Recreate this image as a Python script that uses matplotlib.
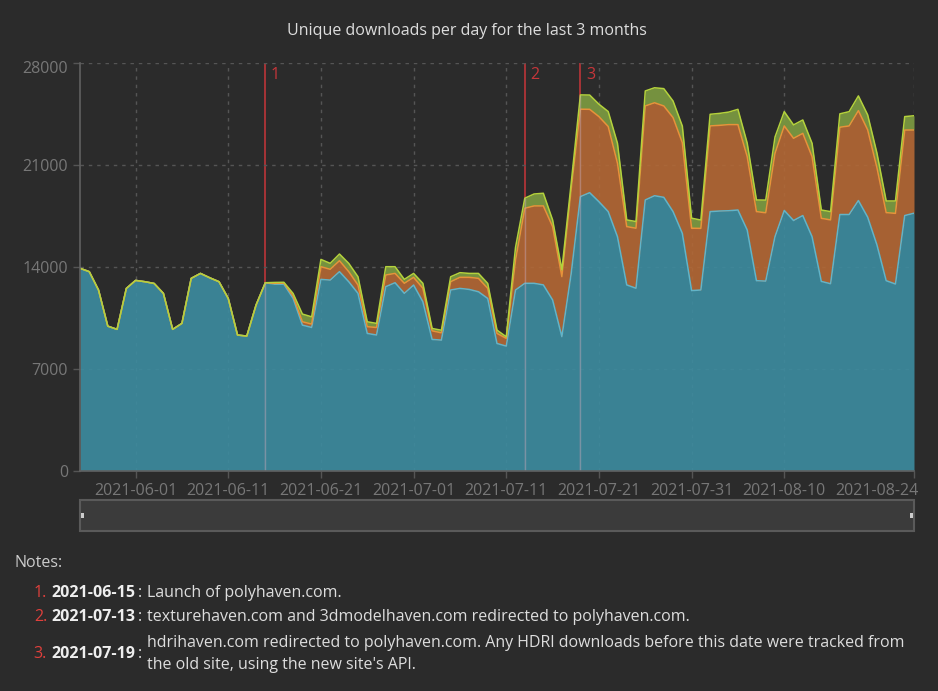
import matplotlib
matplotlib.use("Agg")
import matplotlib.pyplot as plt
import matplotlib.transforms as mtrans
from matplotlib.patches import Rectangle
import numpy as np
import pandas as pd

plt.rcParams["font.family"] = ["Open Sans", "DejaVu Sans"]

# daily unique downloads, 2021-05-26 .. 2021-08-24
days = pd.date_range("2021-05-26", "2021-08-24", freq="D")
hdris = [13890, 13660, 12400, 9920, 9700, 12510, 13060, 12970, 12850, 12170,
         9700, 10110, 13200, 13540, 13240, 12970, 11820, 9310, 9240, 11370,
         12900, 12800, 12800, 11820, 9990, 9830, 13130, 13080, 13660, 12970,
         12170, 9420, 9310, 12630, 12900, 12170, 12740, 11600, 9010, 8960,
         12400, 12510, 12440, 12280, 11820, 8730, 8550, 12400, 12860, 12860,
         12750, 11720, 9200, 13500, 18810, 19080, 18460, 17780, 16060, 12750,
         12520, 18580, 18870, 18760, 17780, 16290, 12360, 12400, 17780, 17820,
         17840, 17890, 16520, 13040, 13010, 16060, 17860, 17170, 17510, 16060,
         12990, 12830, 17580, 17580, 18540, 17400, 15500, 13040, 12810, 17510,
         17670]
textures = [0, 0, 0, 0, 0, 0, 0, 0, 0, 0,
            0, 0, 0, 0, 0, 0, 0, 0, 0, 0,
            0, 60, 70, 160, 230, 230, 870, 740, 750, 690,
            570, 460, 520, 800, 640, 690, 530, 920, 590, 500,
            570, 760, 830, 920, 690, 690, 530, 2060, 5150, 5310,
            5420, 5030, 4120, 5800, 6000, 5720, 5840, 5840, 5040, 4000,
            4120, 6450, 6380, 6270, 6450, 6220, 4280, 4230, 5880, 5880,
            5910, 5860, 5040, 4740, 4690, 5720, 5800, 5640, 5640, 5490,
            4330, 4380, 5990, 6080, 6170, 5990, 5300, 4670, 4850, 5870,
            5710]
models = [0, 0, 0, 0, 0, 0, 0, 0, 0, 0,
          0, 0, 0, 0, 0, 0, 0, 0, 0, 0,
          0, 60, 60, 180, 530, 500, 500, 410, 460, 570,
          570, 340, 280, 570, 460, 270, 270, 340, 160, 180,
          340, 320, 270, 340, 340, 230, 110, 870, 690, 820,
          870, 460, 460, 400, 980, 980, 850, 1030, 1370, 460,
          460, 1030, 1030, 1190, 1140, 1140, 690, 570, 800, 820,
          860, 1050, 920, 800, 870, 1120, 980, 920, 920, 920,
          570, 570, 920, 980, 1010, 1030, 1000, 800, 850, 920,
          980]

tick_days = ["2021-06-01", "2021-06-11", "2021-06-21", "2021-07-01", "2021-07-11",
             "2021-07-21", "2021-07-31", "2021-08-10", "2021-08-24"]
y_ticks = [0, 7000, 14000, 21000, 28000]

event_days = ["2021-06-15", "2021-07-13", "2021-07-19"]
event_notes = [
    "Launch of polyhaven.com.",
    "texturehaven.com and 3dmodelhaven.com redirected to polyhaven.com.",
    "hdrihaven.com redirected to polyhaven.com. Any HDRI downloads before this date were tracked from\n"
    "the old site, using the new site's API.",
]

BG = "#2b2b2b"
FILL = ["#3c8ca0", "#b46835", "#7e9d42"]
EDGE = ["#62b4c8", "#e8923a", "#b4d23c"]
RED = "#c8363a"
GRID = "#555555"
TICK = "#777777"

W, H = 938, 691
fig = plt.figure(figsize=(W / 100, H / 100), dpi=100, facecolor=BG)
ax = fig.add_axes([80 / W, 1 - 470.7 / H, 834 / W, 408 / H], facecolor=BG)

base = np.zeros(len(days))
layers = [np.array(hdris, float), np.array(textures, float), np.array(models, float)]
tops = []
for vals, fc in zip(layers, FILL):
    top = base + vals
    ax.fill_between(days, base, top, color=fc, alpha=0.9, lw=0, zorder=2)
    tops.append(top)
    base = top
for top, ec in zip(tops, EDGE):
    ax.plot(days, top, color=ec, lw=1.1, zorder=3)

total = tops[-1]
for k, d in enumerate(event_days):
    d = pd.Timestamp(d)
    ax.axvline(d, color=RED, lw=1.1, zorder=1)
    h = total[days.get_loc(d)]
    ax.vlines(d, 0, h, color="#b8a8b8", lw=1.0, alpha=0.45, zorder=4)
    ax.annotate(str(k + 1), xy=(d, 28000), xytext=(4, -3), textcoords="offset points",
                color=RED, fontsize=11.5, ha="left", va="top")

ax.set_xlim(days[0], days[-1])
ax.set_ylim(0, 28000)
ax.set_xticks([pd.Timestamp(t) for t in tick_days])
ax.set_xticklabels(tick_days)
ax.set_yticks(y_ticks)
ax.set_yticklabels([str(v) for v in y_ticks])
ax.tick_params(colors=GRID, labelcolor=TICK, labelsize=11.5, length=5, width=1)
last = ax.get_xticklabels()[-1]
last.set_ha("right")
last.set_transform(last.get_transform() + mtrans.ScaledTranslation(4 / 100, 0, fig.dpi_scale_trans))
toplab = ax.get_yticklabels()[-1]
toplab.set_transform(toplab.get_transform() + mtrans.ScaledTranslation(0, -4 / 100, fig.dpi_scale_trans))
ax.grid(True, color=GRID, ls=(0, (2.5, 3.5)), lw=1, zorder=0)
for s in ("top", "right"):
    ax.spines[s].set_visible(False)
for s in ("left", "bottom"):
    ax.spines[s].set_color("#606060")
    ax.spines[s].set_linewidth(1.2)
    ax.spines[s].set_zorder(5)

fig.text(467 / W, 1 - 31 / H, "Unique downloads per day for the last 3 months",
         color="#dddddd", fontsize=11.5, ha="center", va="center")

# range slider under the chart
fig.patches.append(Rectangle((80 / W, 1 - 531 / H), 834 / W, 31 / H, transform=fig.transFigure,
                             facecolor="#3b3b3b", edgecolor="#5a5a5a", lw=1.5))
for hx in (81, 910):
    fig.patches.append(Rectangle((hx / W, 1 - 518 / H), 3 / W, 5 / H, transform=fig.transFigure,
                                 facecolor="#cccccc", edgecolor="none"))

# notes
fig.text(15 / W, 1 - 563 / H, "Notes:", color="#cccccc", fontsize=11.5, ha="left", va="center")
note_y = [593, 617, 654]
for k, (d, note, y) in enumerate(zip(event_days, event_notes, note_y)):
    yy = 1 - y / H
    fig.text(47 / W, yy, f"{k + 1}.", color="#e0403c", fontsize=11.5, ha="right", va="center")
    fig.text(51 / W, yy, d, color="#eeeeee", fontsize=11.5, fontweight="bold",
             ha="left", va="center")
    fig.text(138 / W, yy, ":", color="#dddddd", fontsize=11.5, ha="left", va="center")
    fig.text(147 / W, yy, note, color="#dddddd", fontsize=11.5, ha="left", va="center",
             linespacing=1.5)

fig.savefig("out.png", dpi=100, facecolor=BG)
